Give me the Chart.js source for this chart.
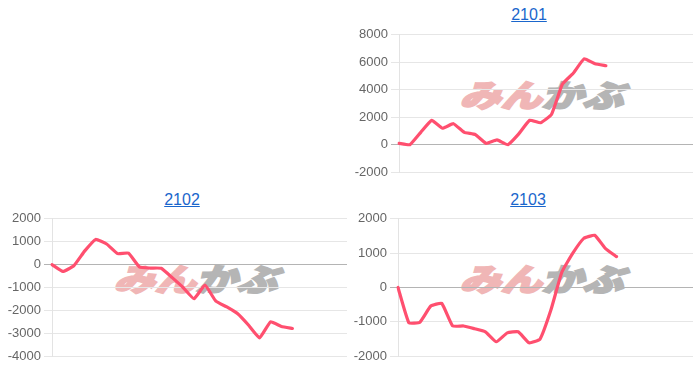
<!DOCTYPE html>
<html>
<head>
<meta charset="utf-8">
<script src="https://cdn.jsdelivr.net/npm/chart.js@4.4.0/dist/chart.umd.min.js"></script>
<style>
    body {
        margin: 0;
        width: 700px;
        height: 370px;
        position: relative;
        overflow: hidden;
        background: #fff;
        font-family: "Liberation Sans", Arial, sans-serif;
    }
    .title {
        position: absolute;
        font-size: 16px;
        line-height: 18px;
        color: #1a66cc;
        text-decoration: underline;
        transform: translateX(-50%);
        white-space: nowrap;
    }
    .mark {
        position: absolute;
        font-family: "Noto Sans CJK JP", sans-serif;
        font-weight: 900;
        font-size: 31px;
        line-height: 31px;
        white-space: nowrap;
        transform: translate(-50%, -50%) scaleX(1.32) skewX(-14deg);
    }
    .mark .a { color: #f0b6b6; -webkit-text-stroke: 2px #f0b6b6; }
    .mark .b { color: #b5b5b5; -webkit-text-stroke: 2px #b5b5b5; }
    .box {
        position: absolute;
    }
</style>
</head>
<body>
<script>
    // hidden x categories (session slots)
    const slots = ['1', '2', '3', '4', '5', '6', '7', '8', '9', '10', '11', '12', '13', '14',
        '15', '16', '17', '18', '19', '20', '21', '22', '23', '24', '25', '26', '27', '28'];

    const values2101 = [100, 0, 900, 1770, 1200, 1530, 900, 740, 100, 350, 0, 790, 1780, 1600,
        2200, 4400, 5200, 6250, 5900, 5750];
    const values2102 = [0, -300, -50, 600, 1100, 900, 480, 500, -100, -150, -160, -570, -1000, -1490,
        -900, -1600, -1850, -2150, -2650, -3200, -2500, -2700, -2790];
    const values2103 = [0, -1030, -1010, -540, -460, -1120, -1120, -1200, -1290, -1580, -1320, -1290,
        -1610, -1500, -650, 450, 1000, 1430, 1520, 1130, 900];

    const ticks2101 = {min: -2000, max: 8000, step: 2000};
    const ticks2102 = {min: -4000, max: 2000, step: 1000};
    const ticks2103 = {min: -2000, max: 2000, step: 1000};

    const panels = [
        {name: '2101', data: values2101, ticks: ticks2101, plot: {left: 399, top: 34, right: 693, bottom: 171}, titleX: 529, titleY: 6},
        {name: '2102', data: values2102, ticks: ticks2102, plot: {left: 52, top: 218, right: 347, bottom: 355}, titleX: 182, titleY: 191},
        {name: '2103', data: values2103, ticks: ticks2103, plot: {left: 398, top: 218, right: 693, bottom: 355}, titleX: 528, titleY: 191}
    ];

    const AXIS_W = 44;
    const PAD_TOP = 10;
    const PAD_BOTTOM = 12;

    function addTitle(p) {
        const t = document.createElement('div');
        t.className = 'title';
        t.textContent = p.name;
        t.style.left = p.titleX + 'px';
        t.style.top = p.titleY + 'px';
        document.body.appendChild(t);
    }

    function addMark(p) {
        const m = document.createElement('div');
        m.className = 'mark';
        m.innerHTML = '<span class="a">みん</span><span class="b">かぶ</span>';
        m.style.left = ((p.plot.left + p.plot.right) / 2) + 'px';
        m.style.top = (p.plot.top + 59) + 'px';
        document.body.appendChild(m);
    }

    function makeChart(p) {
        const box = document.createElement('div');
        box.className = 'box';
        const left = p.plot.left - AXIS_W;
        const top = p.plot.top - PAD_TOP;
        box.style.left = left + 'px';
        box.style.top = top + 'px';
        box.style.width = (p.plot.right - left) + 'px';
        box.style.height = (p.plot.bottom + PAD_BOTTOM - top) + 'px';
        const canvas = document.createElement('canvas');
        box.appendChild(canvas);
        document.body.appendChild(box);

        return new Chart(canvas.getContext('2d'), {
            type: 'line',
            data: {
                labels: slots,
                datasets: [{
                    data: p.data,
                    borderColor: '#ff4f6f',
                    borderWidth: 3.2,
                    pointRadius: 0,
                    tension: 0.12,
                    fill: false,
                    borderCapStyle: 'round',
                    borderJoinStyle: 'round'
                }]
            },
            options: {
                responsive: true,
                maintainAspectRatio: false,
                animation: false,
                layout: {padding: 0},
                plugins: {
                    legend: {display: false},
                    tooltip: {enabled: false}
                },
                scales: {
                    x: {display: false},
                    y: {
                        min: p.ticks.min,
                        max: p.ticks.max,
                        afterFit: (scale) => { scale.width = AXIS_W; },
                        ticks: {
                            stepSize: p.ticks.step,
                            color: '#666',
                            font: {family: '"Liberation Sans", Arial, sans-serif', size: 13},
                            callback: (v) => String(v)
                        },
                        grid: {
                            color: (ctx) => (ctx.tick && ctx.tick.value === 0) ? '#b4b4b4' : '#e6e6e6'
                        },
                        border: {color: '#e3e3e3'}
                    }
                }
            }
        });
    }

    panels.forEach((p) => {
        addTitle(p);
        addMark(p);
        makeChart(p);
    });
</script>
</body>
</html>
